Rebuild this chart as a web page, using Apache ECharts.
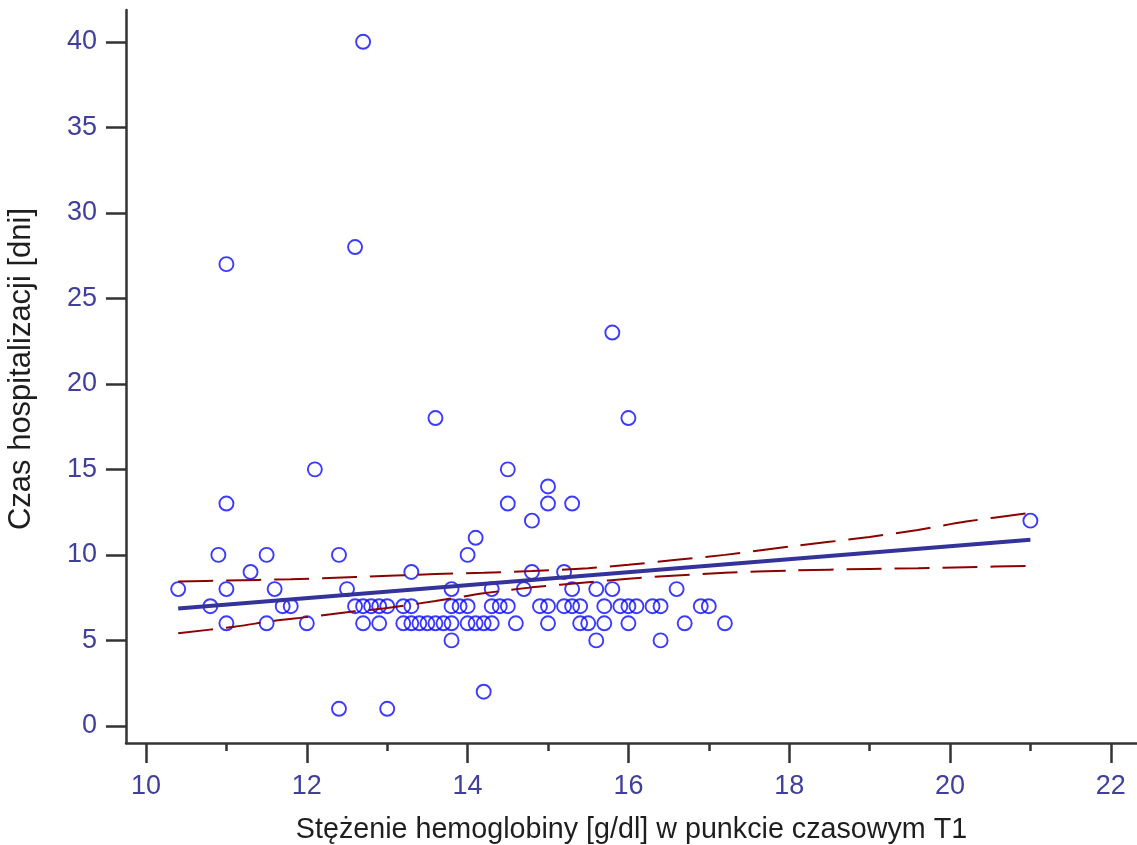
<!DOCTYPE html>
<html>
<head>
<meta charset="utf-8">
<script src="https://cdn.jsdelivr.net/npm/echarts@6/dist/echarts.min.js"></script>
<style>
html,body{margin:0;padding:0;background:#fff;}
#chart{width:1137px;height:845px;}
</style>
</head>
<body>
<div id="chart"></div>
<script>
// ---- data ----
const xTicks = [10, 12, 14, 16, 18, 20, 22];
const xMinorTicks = [11, 13, 15, 17, 19, 21];
const yTicks = [0, 5, 10, 15, 20, 25, 30, 35, 40];

// hemoglobin [g/dl] and hospitalization [days], paired by index
const hemoglobin = [
  12.7,
  12.6,
  11.0,
  15.8,
  13.6, 16.0,
  12.1, 14.5,
  15.0,
  11.0, 14.5, 15.0, 15.3,
  14.8, 21.0,
  14.1,
  10.9, 11.5, 12.4, 14.0,
  11.3, 13.3, 14.8, 15.2,
  10.4, 11.0, 11.6, 12.5, 13.8, 14.3, 14.7, 15.3, 15.6, 15.8, 16.6,
  10.8, 11.7, 11.8, 12.6, 12.7, 12.8, 12.9, 13.0, 13.2, 13.3, 13.8, 13.9, 14.0, 14.3, 14.4, 14.5, 14.9, 15.0, 15.2, 15.3, 15.4, 15.7, 15.9, 16.0, 16.1, 16.3, 16.4, 16.9, 17.0,
  11.0, 11.5, 12.0, 12.7, 12.9, 13.2, 13.3, 13.4, 13.5, 13.6, 13.7, 13.8, 14.0, 14.1, 14.2, 14.3, 14.6, 15.0, 15.4, 15.5, 15.7, 16.0, 16.7, 17.2,
  13.8, 15.6, 16.4,
  14.2,
  12.4, 13.0
];
const days = [
  40,
  28,
  27,
  23,
  18, 18,
  15, 15,
  14,
  13, 13, 13, 13,
  12, 12,
  11,
  10, 10, 10, 10,
  9, 9, 9, 9,
  8, 8, 8, 8, 8, 8, 8, 8, 8, 8, 8,
  7, 7, 7, 7, 7, 7, 7, 7, 7, 7, 7, 7, 7, 7, 7, 7, 7, 7, 7, 7, 7, 7, 7, 7, 7, 7, 7, 7, 7,
  6, 6, 6, 6, 6, 6, 6, 6, 6, 6, 6, 6, 6, 6, 6, 6, 6, 6, 6, 6, 6, 6, 6, 6,
  5, 5, 5,
  2,
  1, 1
];

// regression line (end points)
const regX = [10.4, 21.0];
const regY = [6.87, 10.88];

// confidence band
const upperX = [10.4, 11.0, 11.8, 12.6, 13.6, 14.2, 14.8, 15.5, 16.0, 16.6, 17.2, 18.0, 19.0, 19.6, 20.2, 21.0];
const upperY = [8.44, 8.50, 8.58, 8.70, 8.88, 8.95, 9.05, 9.22, 9.42, 9.71, 10.00, 10.48, 11.05, 11.46, 11.95, 12.45];
const lowerX = [10.4, 11.1, 11.6, 12.0, 12.6, 13.0, 13.6, 14.2, 14.8, 15.5, 16.0, 16.6, 17.2, 18.0, 19.0, 19.6, 20.2, 21.0];
const lowerY = [5.42, 5.80, 6.15, 6.36, 6.70, 6.90, 7.30, 7.75, 8.10, 8.40, 8.60, 8.80, 8.95, 9.08, 9.18, 9.22, 9.28, 9.36];

const xTitle = 'Stężenie hemoglobiny [g/dl] w punkcie czasowym T1';
const yTitle = 'Czas hospitalizacji [dni]';

// ---- build chart ----
const zip = (a, b) => a.map((v, i) => [v, b[i]]);
const axisColor = '#333333';
const labelColor = '#40409c';
const FONT = '"Liberation Sans", Arial, sans-serif';

const chart = echarts.init(document.getElementById('chart'), null, {renderer: 'canvas'});
chart.setOption({
  animation: false,
  backgroundColor: '#ffffff',
  grid: {left: 126, right: 0, top: 10, bottom: 102, containLabel: false, outerBoundsMode: 'none'},
  graphic: [{
    type: 'text', rotation: Math.PI / 2,
    x: 21, y: 369,
    style: {text: yTitle, fill: '#1e1e1e', font: '31px "Liberation Sans", Arial, sans-serif',
            textAlign: 'center', textVerticalAlign: 'middle'},
    silent: true
  }],
  xAxis: [{
    type: 'value', position: 'bottom', min: 9.751, max: 22.326,
    name: xTitle, nameLocation: 'middle', nameGap: 73,
    nameTextStyle: {color: '#1e1e1e', fontSize: 28.7, fontFamily: FONT},
    axisLine: {show: true, onZero: false, lineStyle: {color: axisColor, width: 2.5}},
    axisTick: {show: true, inside: false, length: 20, customValues: xTicks, lineStyle: {color: axisColor, width: 2.5}},
    axisLabel: {show: true, customValues: xTicks, margin: 30, color: labelColor, fontSize: 27, fontFamily: FONT},
    splitLine: {show: false}
  }, {
    type: 'value', position: 'bottom', offset: 0, min: 9.751, max: 22.326,
    axisLine: {show: false, onZero: false},
    axisTick: {show: true, inside: false, length: 8, customValues: xMinorTicks, lineStyle: {color: axisColor, width: 2.5}},
    axisLabel: {show: false},
    splitLine: {show: false}
  }],
  yAxis: [{
    type: 'value', position: 'left', min: -1.0, max: 41.86,
    axisLine: {show: true, onZero: false, lineStyle: {color: axisColor, width: 2.5}},
    axisTick: {show: true, inside: false, length: 20, customValues: yTicks, lineStyle: {color: axisColor, width: 2.5}},
    axisLabel: {show: true, customValues: yTicks, margin: 29, color: labelColor, fontSize: 27, fontFamily: FONT},
    splitLine: {show: false}
  }],
  series: [{
    type: 'scatter',
    data: zip(hemoglobin, days),
    symbol: 'circle', symbolSize: 14,
    itemStyle: {color: 'rgba(0,0,0,0)', borderColor: '#0a0aff', borderWidth: 1.9},
    z: 2, silent: true
  }, {
    type: 'line', data: zip(regX, regY), showSymbol: false, symbol: 'none',
    lineStyle: {color: '#33339a', width: 4}, z: 4, silent: true
  }, {
    type: 'line', data: zip(upperX, upperY), showSymbol: false, symbol: 'none', smooth: 0.3,
    lineStyle: {color: '#8b0000', width: 2, type: [35, 13]}, z: 3, silent: true
  }, {
    type: 'line', data: zip(lowerX, lowerY), showSymbol: false, symbol: 'none', smooth: 0.3,
    lineStyle: {color: '#8b0000', width: 2, type: [35, 13]}, z: 3, silent: true
  }]
});
</script>
</body>
</html>
